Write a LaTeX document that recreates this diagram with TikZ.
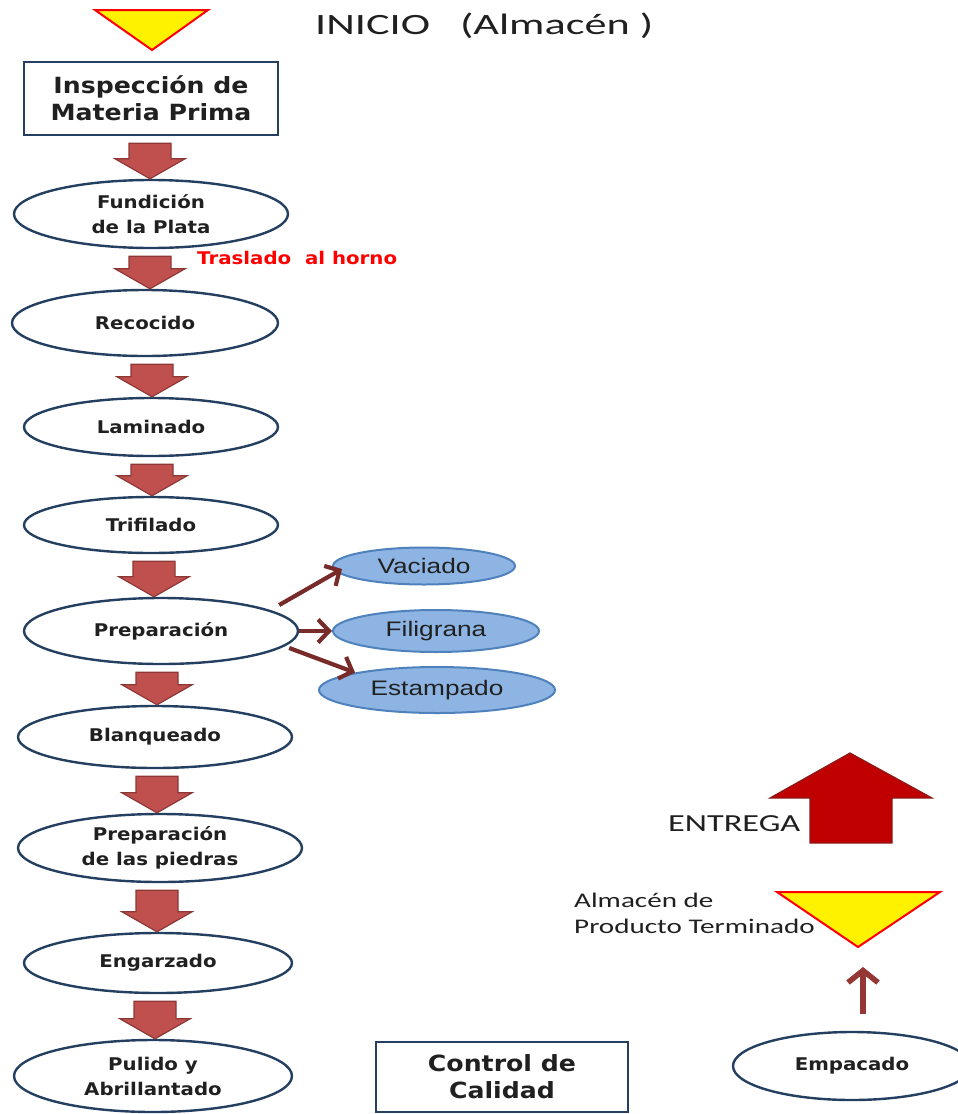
\documentclass[tikz,border=0pt]{standalone}
\usepackage{fontspec}
\usetikzlibrary{calc,arrows.meta,shapes.geometric}

% widened faces used for the labels
\newfontfamily\lblfont[FakeStretch=1.13]{DejaVu Sans}
\newfontfamily\blufont[FakeStretch=1.25]{Liberation Sans}
\newfontfamily\calfont[FakeStretch=1.4]{Carlito}
\newfontfamily\titlefont[FakeStretch=1.5]{Carlito}

\definecolor{navy}{HTML}{243F60}
\definecolor{arrowred}{HTML}{C0504D}
\definecolor{arrowedge}{HTML}{8C3836}
\definecolor{darkred}{HTML}{772C2A}
\definecolor{liftred}{HTML}{953735}
\definecolor{paleblue}{HTML}{8DB4E2}
\definecolor{blueedge}{HTML}{4F81BD}
\definecolor{deliver}{HTML}{C00000}
\definecolor{deliveredge}{HTML}{8B1A1A}
\definecolor{ink}{HTML}{202020}

\tikzset{
  stepell/.style={ellipse, draw=navy, line width=2.4pt, fill=white, inner sep=0pt,
    align=center, text=ink, font=\lblfont\bfseries\fontsize{17.5}{25}\selectfont},
  stepbox/.style={rectangle, draw=navy, line width=2.4pt, fill=white, inner sep=0pt,
    align=center, text=ink, font=\lblfont\bfseries\fontsize{22.3}{27}\selectfont},
  subell/.style={ellipse, draw=blueedge, line width=2pt, fill=paleblue, inner sep=0pt,
    text=ink, font=\blufont\fontsize{21}{24}\selectfont},
  blockarrow/.style={fill=arrowred, draw=arrowedge, line width=1.2pt, line join=miter},
  branch/.style={draw=darkred, line width=4.2pt,
    -{Straight Barb[length=11pt,width=23pt]}},
  liftline/.style={draw=liftred, line width=5.5pt,
    -{Straight Barb[length=12pt,width=30pt]}},
  storage/.style={fill=yellow, draw=red, line width=2pt, line join=miter},
  deliverarrow/.style={fill=deliver, draw=deliveredge, line width=1.2pt, line join=miter},
  plain/.style={text=ink, inner sep=0pt}
}

% wide down arrow from one step to the next, centred at x = #3
\newcommand\stepflow[3]{%
  \path[blockarrow] let \p1=(#1.south), \p2=(#2.north) in
    ({#3pt-21pt},{\y1-7pt}) -- ({#3pt+21pt},{\y1-7pt}) --
    ({#3pt+21pt},{\y2+20pt}) -- ({#3pt+35pt},{\y2+20pt}) --
    ({#3pt},{\y2}) -- ({#3pt-35pt},{\y2+20pt}) --
    ({#3pt-21pt},{\y2+20pt}) -- cycle;}

\begin{document}
\begin{tikzpicture}[x=1pt,y=-1pt]
\useasboundingbox (0,0) rectangle (958,1114);

% start: raw material store
\draw[storage] (95,10) -- (208,10) -- (152,50) -- cycle;
\node[plain, anchor=west, font=\titlefont\fontsize{29.5}{32}\selectfont] (inicio) at (315,26)
  {INICIO\hspace*{30pt}(Almacén )};

% main process column
\node[stepbox, minimum width=254pt, minimum height=73pt] (insp) at (151,98.5)
  {Inspección de\\Materia Prima};
\node[stepell, minimum width=274pt, minimum height=68pt] (fund) at (151,214)
  {Fundición\\de la Plata};
\node[stepell, minimum width=266pt, minimum height=66pt] (recoc) at (145,323) {Recocido};
\node[stepell, minimum width=254pt, minimum height=58pt] (lamin) at (151,427) {Laminado};
\node[stepell, minimum width=254pt, minimum height=56pt] (trif) at (151,525) {Trifilado};
\node[stepell, minimum width=274pt, minimum height=66pt] (prep) at (161,631) {Preparación};
\node[stepell, minimum width=274pt, minimum height=62pt] (blanq) at (155,737) {Blanqueado};
\node[stepell, minimum width=284pt, minimum height=68pt] (piedras) at (160,848)
  {Preparación\\de las piedras};
\node[stepell, minimum width=268pt, minimum height=60pt] (engarz) at (158,963) {Engarzado};
\node[stepell, minimum width=278pt, minimum height=72pt] (pulido) at (153,1076)
  {Pulido y\\Abrillantado};

\stepflow{insp}{fund}{150}
\stepflow{fund}{recoc}{150}
\stepflow{recoc}{lamin}{152}
\stepflow{lamin}{trif}{152}
\stepflow{trif}{prep}{154}
\stepflow{prep}{blanq}{157}
\stepflow{blanq}{piedras}{157}
\stepflow{piedras}{engarz}{157}
\stepflow{engarz}{pulido}{155}

\node[plain, anchor=west, text=red, font=\lblfont\bfseries\fontsize{17.5}{20}\selectfont]
  (traslado) at (197,258) {Traslado\ \ al horno};

% branches of the preparation step
\node[subell, minimum width=182pt, minimum height=37pt] (vac) at (424,566) {Vaciado};
\node[subell, minimum width=206pt, minimum height=42pt] (fil) at (436,631) {Filigrana};
\node[subell, minimum width=236pt, minimum height=46pt] (est) at (437,690) {Estampado};
\draw[branch] ($(prep.east)+(-20,-26)$) -- ($(vac.west)+(10,3)$);
\draw[branch] (prep.east) -- (fil.west);
\draw[branch] ($(prep.east)+(-10,17)$) -- (est.168);

% quality control
\node[stepbox, minimum width=252pt, minimum height=70pt] (control) at (502,1077)
  {Control de\\Calidad};

% packing, finished goods store and delivery
\node[stepell, minimum width=238pt, minimum height=68pt] (empac) at (852,1066) {Empacado};
\draw[storage] (777,892) -- (940,892) -- (858,947) -- cycle;
\coordinate (ptip) at (858,947);
\draw[liftline] ($(empac.north)+(11,-17)$) -- ($(ptip)+(5,20)$);
\node[plain, anchor=west, align=left, font=\calfont\fontsize{20.8}{26}\selectfont]
  (almprod) at (574,913) {Almacén de\\Producto Terminado};

\draw[deliverarrow] (810,843) -- (892,843) -- (892,798) -- (932,798) -- (850,753)
  -- (770,798) -- (810,798) -- cycle;
\node[plain, anchor=west, font=\calfont\fontsize{24.5}{28}\selectfont] (entrega) at (668,824)
  {ENTREGA};
\end{tikzpicture}
\end{document}
